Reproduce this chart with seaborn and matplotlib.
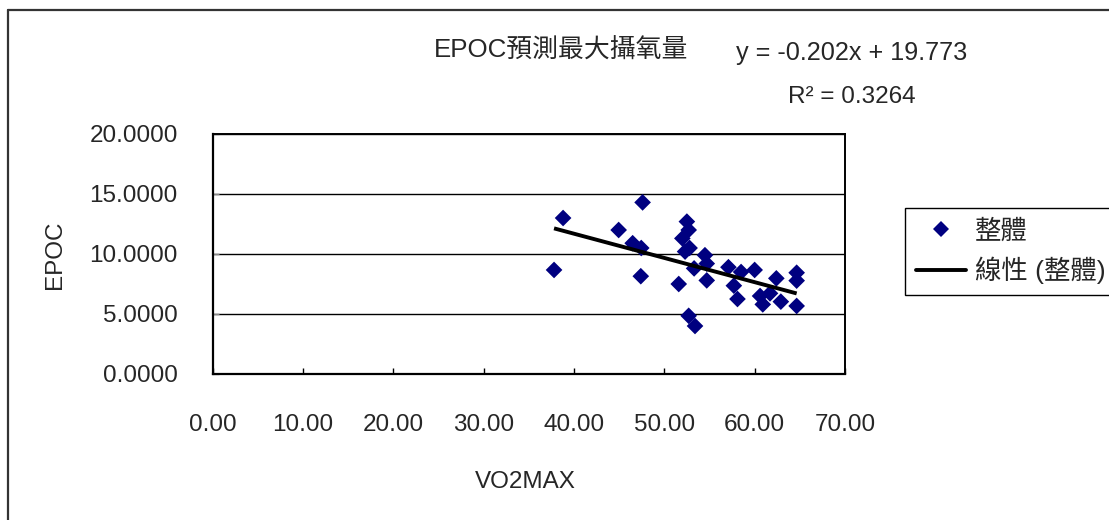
import numpy as np
import pandas as pd
import matplotlib
matplotlib.use("Agg")
import matplotlib.pyplot as plt
import seaborn as sns
from matplotlib.lines import Line2D

# ---- data ----
vo2max = [37.8, 38.8, 44.95, 46.5, 47.45, 47.6, 47.4, 51.6, 52.5, 52.7, 52.0,
          52.8, 52.3, 54.5, 54.7, 53.3, 54.7, 52.7, 53.4, 57.1, 58.5, 60.0,
          57.7, 58.1, 62.4, 64.65, 64.65, 60.6, 61.7, 60.9, 62.9, 64.65]
epoc = [8.67, 13.0, 12.0, 10.9, 10.5, 14.3, 8.15, 7.5, 12.7, 12.0, 11.3,
        10.5, 10.2, 9.9, 9.2, 8.8, 7.8, 4.85, 4.0, 8.9, 8.5, 8.67,
        7.36, 6.25, 7.97, 8.44, 7.78, 6.5, 6.72, 5.8, 6.03, 5.67]
trend_slope = -0.202
trend_intercept = 19.773
x_ticks = [0, 10, 20, 30, 40, 50, 60, 70]
y_ticks = [0, 5, 10, 15, 20]
title_text = "EPOC預測最大攝氧量"
eq_text = "y = -0.202x + 19.773"
r2_text = "R² = 0.3264"
series_label = "整體"
trend_label = "線性 (整體)"
x_title = "VO2MAX"
y_title = "EPOC"

sns.set_theme(style="white")
plt.rcParams["font.family"] = ["Liberation Sans", "Noto Sans CJK TC", "DejaVu Sans"]
FS = 17.5
W, H = 1109, 520

fig = plt.figure(figsize=(W / 100, H / 100), dpi=100)
fig.patch.set_facecolor("white")
ax = fig.add_axes([212.5 / W, 1 - 374 / H, (845 - 212.5) / W, (374 - 134) / H])

df = pd.DataFrame({"VO2MAX": vo2max, "EPOC": epoc})
sns.scatterplot(data=df, x="VO2MAX", y="EPOC", marker="D", s=72,
                color="#000080", edgecolor="none", linewidth=0,
                ax=ax, zorder=3, legend=False)

xs = np.array([min(vo2max), max(vo2max)])
ax.plot(xs, trend_slope * xs + trend_intercept, color="black", lw=2.8,
        zorder=4, solid_capstyle="butt")

ax.set_xlim(0, 70)
ax.set_ylim(0, 20)
ax.set_xticks(x_ticks)
ax.set_yticks(y_ticks)
ax.set_xticklabels([f"{v:.2f}" for v in x_ticks], fontsize=FS)
ax.set_yticklabels([f"{v:.4f}" for v in y_ticks], fontsize=FS)
ax.tick_params(axis="x", direction="in", length=4, width=1, color="black",
               pad=29, bottom=True)
ax.tick_params(axis="y", direction="in", length=4, width=1, color="#888888",
               pad=25, left=True)
ax.yaxis.grid(True, color="black", lw=1)
ax.xaxis.grid(False)
ax.set_axisbelow(True)
for side, sp in ax.spines.items():
    sp.set_color("black")
    sp.set_linewidth(1.6 if side in ("left", "bottom") else 1.4)
ax.set_xlabel("")
ax.set_ylabel("")

fig.text(55 / W, 1 - 255 / H, y_title, rotation=90, ha="center", va="center",
         fontsize=FS)
fig.text(525 / W, 1 - 482 / H, x_title, ha="center", va="center", fontsize=FS)

fig.text(434 / W, 1 - 51 / H, title_text, ha="left", va="center", fontsize=18.6)
fig.text(736 / W, 1 - 53 / H, eq_text, ha="left", va="center", fontsize=18.2)
fig.text(788 / W, 1 - 97 / H, r2_text, ha="left", va="center", fontsize=FS)

handles = [
    Line2D([], [], marker="D", color="#000080", linestyle="none",
           markersize=8, markeredgewidth=0),
    Line2D([], [], color="black", lw=2.8),
]
leg = ax.legend(handles, [series_label, trend_label], loc="upper left",
                bbox_to_anchor=(905 / W, 1 - 208 / H),
                bbox_transform=fig.transFigure, frameon=True, fancybox=False,
                edgecolor="black", framealpha=1, fontsize=19,
                borderaxespad=0, borderpad=0.42, handlelength=1.9,
                handletextpad=0.34, labelspacing=0.5)
leg.get_frame().set_linewidth(1.0)

# outer chart-area frame
fig.add_artist(Line2D([8 / W, 8 / W], [0, 1 - 10 / H], transform=fig.transFigure,
                      color="#333333", lw=1.6))
fig.add_artist(Line2D([8 / W, 1], [1 - 10 / H, 1 - 10 / H],
                      transform=fig.transFigure, color="#333333", lw=1.6))

fig.savefig("out.png", dpi=100, facecolor="white")
